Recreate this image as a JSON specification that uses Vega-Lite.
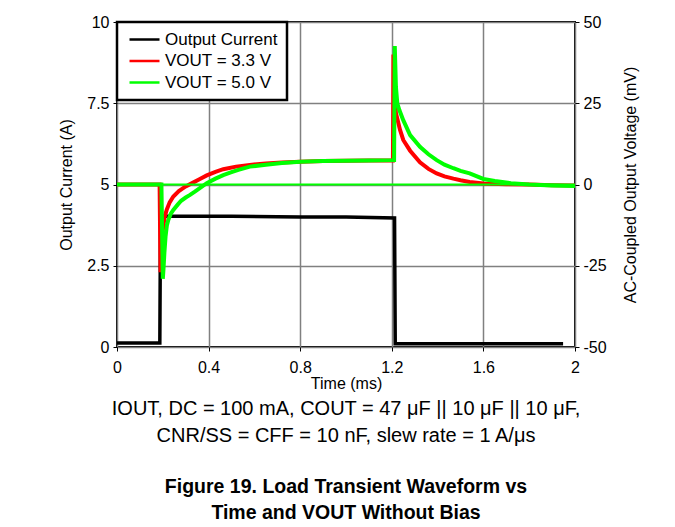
{
  "$schema": "https://vega.github.io/schema/vega-lite/v6.json",
  "width": 458,
  "height": 325,
  "autosize": {"type": "none"},
  "padding": {"left": 117, "top": 22, "right": 100, "bottom": 180},
  "background": "white",
  "datasets": {
    "current": [
      {"t": 0, "i": 0.12, "s": "Output Current"},
      {"t": 0.187, "i": 0.12, "s": "Output Current"},
      {"t": 0.19, "i": 4.02, "s": "Output Current"},
      {"t": 0.5, "i": 4.02, "s": "Output Current"},
      {"t": 0.8, "i": 4.0, "s": "Output Current"},
      {"t": 1.0, "i": 4.0, "s": "Output Current"},
      {"t": 1.212, "i": 3.97, "s": "Output Current"},
      {"t": 1.215, "i": 0.1, "s": "Output Current"},
      {"t": 1.6, "i": 0.1, "s": "Output Current"},
      {"t": 1.948, "i": 0.1, "s": "Output Current"}
    ],
    "volt": [
      {"t": 0, "v": 0, "s": "VOUT = 3.3 V"},
      {"t": 0.186, "v": 0, "s": "VOUT = 3.3 V"},
      {"t": 0.19, "v": -27, "s": "VOUT = 3.3 V"},
      {"t": 0.194, "v": -20, "s": "VOUT = 3.3 V"},
      {"t": 0.2, "v": -14, "s": "VOUT = 3.3 V"},
      {"t": 0.208, "v": -10, "s": "VOUT = 3.3 V"},
      {"t": 0.217, "v": -7.8, "s": "VOUT = 3.3 V"},
      {"t": 0.23, "v": -5.5, "s": "VOUT = 3.3 V"},
      {"t": 0.246, "v": -3.7, "s": "VOUT = 3.3 V"},
      {"t": 0.27, "v": -2.0, "s": "VOUT = 3.3 V"},
      {"t": 0.3, "v": -0.6, "s": "VOUT = 3.3 V"},
      {"t": 0.33, "v": 0.5, "s": "VOUT = 3.3 V"},
      {"t": 0.36, "v": 1.6, "s": "VOUT = 3.3 V"},
      {"t": 0.392, "v": 2.8, "s": "VOUT = 3.3 V"},
      {"t": 0.43, "v": 3.9, "s": "VOUT = 3.3 V"},
      {"t": 0.464, "v": 4.7, "s": "VOUT = 3.3 V"},
      {"t": 0.52, "v": 5.5, "s": "VOUT = 3.3 V"},
      {"t": 0.58, "v": 6.0, "s": "VOUT = 3.3 V"},
      {"t": 0.65, "v": 6.5, "s": "VOUT = 3.3 V"},
      {"t": 0.72, "v": 6.8, "s": "VOUT = 3.3 V"},
      {"t": 0.8, "v": 7.0, "s": "VOUT = 3.3 V"},
      {"t": 0.9, "v": 7.2, "s": "VOUT = 3.3 V"},
      {"t": 1.0, "v": 7.3, "s": "VOUT = 3.3 V"},
      {"t": 1.1, "v": 7.4, "s": "VOUT = 3.3 V"},
      {"t": 1.205, "v": 7.4, "s": "VOUT = 3.3 V"},
      {"t": 1.207, "v": 40, "s": "VOUT = 3.3 V"},
      {"t": 1.212, "v": 30, "s": "VOUT = 3.3 V"},
      {"t": 1.218, "v": 22, "s": "VOUT = 3.3 V"},
      {"t": 1.236, "v": 16.8, "s": "VOUT = 3.3 V"},
      {"t": 1.25, "v": 13.7, "s": "VOUT = 3.3 V"},
      {"t": 1.28, "v": 10.4, "s": "VOUT = 3.3 V"},
      {"t": 1.323, "v": 6.8, "s": "VOUT = 3.3 V"},
      {"t": 1.36, "v": 4.8, "s": "VOUT = 3.3 V"},
      {"t": 1.396, "v": 3.4, "s": "VOUT = 3.3 V"},
      {"t": 1.43, "v": 2.5, "s": "VOUT = 3.3 V"},
      {"t": 1.469, "v": 1.8, "s": "VOUT = 3.3 V"},
      {"t": 1.5, "v": 1.3, "s": "VOUT = 3.3 V"},
      {"t": 1.54, "v": 0.8, "s": "VOUT = 3.3 V"},
      {"t": 1.6, "v": 0.3, "s": "VOUT = 3.3 V"},
      {"t": 1.7, "v": 0.1, "s": "VOUT = 3.3 V"},
      {"t": 1.8, "v": 0, "s": "VOUT = 3.3 V"},
      {"t": 1.9, "v": -0.2, "s": "VOUT = 3.3 V"},
      {"t": 2.0, "v": -0.3, "s": "VOUT = 3.3 V"},
      {"t": 0, "v": 0, "s": "VOUT = 5.0 V"},
      {"t": 0.194, "v": 0, "s": "VOUT = 5.0 V"},
      {"t": 0.2, "v": -29, "s": "VOUT = 5.0 V"},
      {"t": 0.203, "v": -26, "s": "VOUT = 5.0 V"},
      {"t": 0.207, "v": -21, "s": "VOUT = 5.0 V"},
      {"t": 0.212, "v": -16, "s": "VOUT = 5.0 V"},
      {"t": 0.218, "v": -12.5, "s": "VOUT = 5.0 V"},
      {"t": 0.224, "v": -10.9, "s": "VOUT = 5.0 V"},
      {"t": 0.235, "v": -9, "s": "VOUT = 5.0 V"},
      {"t": 0.246, "v": -7.8, "s": "VOUT = 5.0 V"},
      {"t": 0.265, "v": -6.2, "s": "VOUT = 5.0 V"},
      {"t": 0.28, "v": -5, "s": "VOUT = 5.0 V"},
      {"t": 0.3, "v": -4, "s": "VOUT = 5.0 V"},
      {"t": 0.319, "v": -3.2, "s": "VOUT = 5.0 V"},
      {"t": 0.34, "v": -2.2, "s": "VOUT = 5.0 V"},
      {"t": 0.36, "v": -1.2, "s": "VOUT = 5.0 V"},
      {"t": 0.392, "v": 0.4, "s": "VOUT = 5.0 V"},
      {"t": 0.43, "v": 1.8, "s": "VOUT = 5.0 V"},
      {"t": 0.464, "v": 2.9, "s": "VOUT = 5.0 V"},
      {"t": 0.5, "v": 3.8, "s": "VOUT = 5.0 V"},
      {"t": 0.53, "v": 4.5, "s": "VOUT = 5.0 V"},
      {"t": 0.58, "v": 5.5, "s": "VOUT = 5.0 V"},
      {"t": 0.65, "v": 6.1, "s": "VOUT = 5.0 V"},
      {"t": 0.72, "v": 6.6, "s": "VOUT = 5.0 V"},
      {"t": 0.8, "v": 7.0, "s": "VOUT = 5.0 V"},
      {"t": 0.9, "v": 7.2, "s": "VOUT = 5.0 V"},
      {"t": 1.0, "v": 7.3, "s": "VOUT = 5.0 V"},
      {"t": 1.1, "v": 7.4, "s": "VOUT = 5.0 V"},
      {"t": 1.21, "v": 7.5, "s": "VOUT = 5.0 V"},
      {"t": 1.213, "v": 42.6, "s": "VOUT = 5.0 V"},
      {"t": 1.218, "v": 30, "s": "VOUT = 5.0 V"},
      {"t": 1.224, "v": 25, "s": "VOUT = 5.0 V"},
      {"t": 1.233, "v": 22.9, "s": "VOUT = 5.0 V"},
      {"t": 1.25, "v": 19.8, "s": "VOUT = 5.0 V"},
      {"t": 1.28, "v": 15.2, "s": "VOUT = 5.0 V"},
      {"t": 1.323, "v": 11.6, "s": "VOUT = 5.0 V"},
      {"t": 1.36, "v": 9.3, "s": "VOUT = 5.0 V"},
      {"t": 1.396, "v": 7.5, "s": "VOUT = 5.0 V"},
      {"t": 1.43, "v": 6.1, "s": "VOUT = 5.0 V"},
      {"t": 1.469, "v": 5.0, "s": "VOUT = 5.0 V"},
      {"t": 1.5, "v": 4.2, "s": "VOUT = 5.0 V"},
      {"t": 1.54, "v": 3.4, "s": "VOUT = 5.0 V"},
      {"t": 1.6, "v": 1.7, "s": "VOUT = 5.0 V"},
      {"t": 1.65, "v": 1.1, "s": "VOUT = 5.0 V"},
      {"t": 1.72, "v": 0.4, "s": "VOUT = 5.0 V"},
      {"t": 1.8, "v": 0, "s": "VOUT = 5.0 V"},
      {"t": 1.9, "v": -0.3, "s": "VOUT = 5.0 V"},
      {"t": 2.0, "v": -0.5, "s": "VOUT = 5.0 V"}
    ],
    "zero": [
      {"t": 0, "v": 0},
      {"t": 2, "v": 0}
    ]
  },
  "title": {
    "text": ["IOUT, DC = 100 mA, COUT = 47 μF || 10 μF || 10 μF,", "CNR/SS = CFF = 10 nF, slew rate = 1 A/μs"],
    "subtitle": ["Figure 19. Load Transient Waveform vs", "Time and VOUT Without Bias"],
    "orient": "bottom",
    "anchor": "middle",
    "font": "Liberation Sans",
    "fontSize": 20,
    "fontWeight": "normal",
    "lineHeight": 27,
    "color": "black",
    "subtitleFont": "Liberation Sans",
    "subtitleFontSize": 19.5,
    "subtitleFontWeight": "bold",
    "subtitleLineHeight": 25.5,
    "subtitleColor": "black",
    "subtitlePadding": 32,
    "offset": 8
  },
  "layer": [
    {
      "data": {"name": "current"},
      "mark": {"type": "line", "strokeWidth": 3.5, "interpolate": "linear"},
      "encoding": {
        "x": {"field": "t", "type": "quantitative", "scale": {"domain": [0, 2]},
              "axis": {"title": "Time (ms)", "values": [0, 0.4, 0.8, 1.2, 1.6, 2], "labelExpr": "'' + datum.value", "grid": true, "labelFlush": false, "labelOverlap": false, "labelPadding": 8, "titlePadding": 0}},
        "y": {"field": "i", "type": "quantitative", "scale": {"domain": [0, 10]},
              "axis": {"title": "Output Current (A)", "orient": "left", "values": [0, 2.5, 5, 7.5, 10], "labelExpr": "'' + datum.value", "grid": true, "labelFlush": false, "labelOverlap": false, "titlePadding": 12}},
        "color": {"field": "s", "type": "nominal",
                  "scale": {"domain": ["Output Current", "VOUT = 3.3 V", "VOUT = 5.0 V"], "range": ["#000000", "#ff0000", "#00ff00"]},
                  "sort": null,
                  "legend": {"title": null, "orient": "none", "legendX": 0, "legendY": 0}}
      }
    },
    {
      "layer": [
        {
          "data": {"name": "volt"},
          "mark": {"type": "line", "strokeWidth": 4},
          "encoding": {
            "x": {"field": "t", "type": "quantitative"},
            "y": {"field": "v", "type": "quantitative", "scale": {"domain": [-50, 50]},
                  "axis": {"title": "AC-Coupled Output Voltage (mV)", "orient": "right", "titleAngle": 270, "values": [-50, -25, 0, 25, 50], "labelExpr": "'' + datum.value", "grid": false, "labelFlush": false, "labelOverlap": false, "titlePadding": 32}},
            "color": {"field": "s", "type": "nominal"}
          }
        },
        {
          "data": {"name": "zero"},
          "mark": {"type": "line", "strokeWidth": 2, "color": "#00ff00"},
          "encoding": {
            "x": {"field": "t", "type": "quantitative"},
            "y": {"field": "v", "type": "quantitative"}
          }
        }
      ]
    }
  ],
  "resolve": {"scale": {"y": "independent"}},
  "config": {
    "font": "Liberation Sans",
    "view": {"stroke": "black", "strokeWidth": 2},
    "axis": {
      "labelFontSize": 16,
      "titleFontSize": 16,
      "titleFontWeight": "normal",
      "labelColor": "black",
      "titleColor": "black",
      "domain": false,
      "tickColor": "black",
      "tickSize": 4,
      "labelPadding": 4,
      "gridColor": "#808080",
      "gridWidth": 1.5,
      "gridOpacity": 1
    },
    "legend": {
      "strokeColor": "black",
      "strokeWidth": 2.5,
      "fillColor": "white",
      "padding": 9,
      "symbolType": "M-1,0H5",
      "symbolSize": 100,
      "symbolStrokeWidth": 2.5,
      "labelFontSize": 17,
      "labelColor": "black",
      "labelOffset": 22,
      "rowPadding": 3.5
    }
  }
}
